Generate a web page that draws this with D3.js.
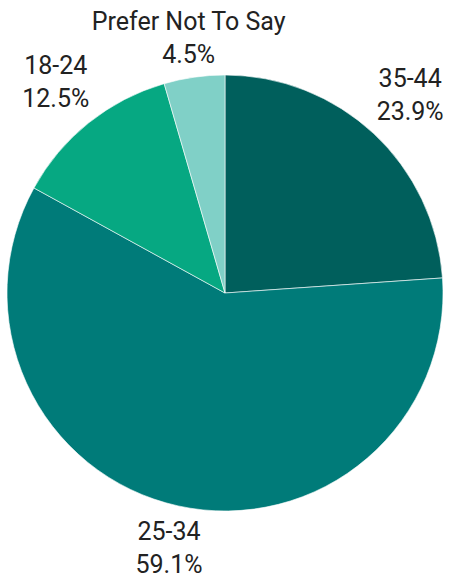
<!DOCTYPE html>
<html><head><meta charset="utf-8">
<script src="https://cdn.jsdelivr.net/npm/d3@7"></script>
<style>html,body{margin:0;padding:0;background:#fff;}svg{display:block;}</style>
</head><body>
<svg id="chart" width="455" height="580"></svg>
<script>
const categories = ["35-44", "25-34", "18-24", "Prefer Not To Say"];
const values = [23.9, 59.1, 12.5, 4.5];
const colors = ["#005f5c", "#007b79", "#06a882", "#80d0c7"];

const W = 455, H = 580, cx = 225, cy = 293, R = 218, gap = 12, fontSize = 25, lineH = 33;
const svg = d3.select("#chart");
const g = svg.append("g").attr("transform", `translate(${cx},${cy})`);
const data = categories.map((c, i) => ({ c, v: values[i], col: colors[i] }));
const pie = d3.pie().value(d => d.v).sort(null);
const arc = d3.arc().innerRadius(0).outerRadius(R);
const arcs = pie(data);
g.selectAll("path").data(arcs).join("path")
  .attr("d", arc).attr("fill", d => d.data.col)
  .attr("stroke", "#fff").attr("stroke-width", 0.6);

arcs.forEach(a => {
  const mid = (a.startAngle + a.endAngle) / 2;
  const dx = Math.sin(mid), dy = -Math.cos(mid);
  const t = g.append("text").attr("font-family", "Roboto").attr("font-size", fontSize)
    .attr("fill", "#222").attr("text-anchor", "middle");
  t.append("tspan").attr("x", 0).attr("y", 0).text(a.data.c);
  t.append("tspan").attr("x", 0).attr("y", lineH).text(a.data.v.toFixed(1) + "%");
  const bb = t.node().getBBox();
  const w = bb.width, h = lineH + fontSize * 0.72;
  const nearest = (px, py) => {
    const x0 = px - w / 2, x1 = px + w / 2, y0 = py - h / 2, y1 = py + h / 2;
    const nx = Math.max(x0, Math.min(0, x1)), ny = Math.max(y0, Math.min(0, y1));
    return Math.hypot(nx, ny);
  };
  let lo = 0, hi = 600;
  for (let k = 0; k < 60; k++) {
    const m = (lo + hi) / 2;
    if (nearest(dx * m, dy * m) < R + gap) lo = m; else hi = m;
  }
  const px = dx * hi, py = dy * hi;
  const top = Math.max(py - h / 2 + fontSize * 0.72, -cy + fontSize * 0.72 + 9);
  t.selectAll("tspan").attr("x", px);
  t.select("tspan:nth-child(1)").attr("y", top);
  t.select("tspan:nth-child(2)").attr("y", top + lineH);
});
</script>
</body></html>
